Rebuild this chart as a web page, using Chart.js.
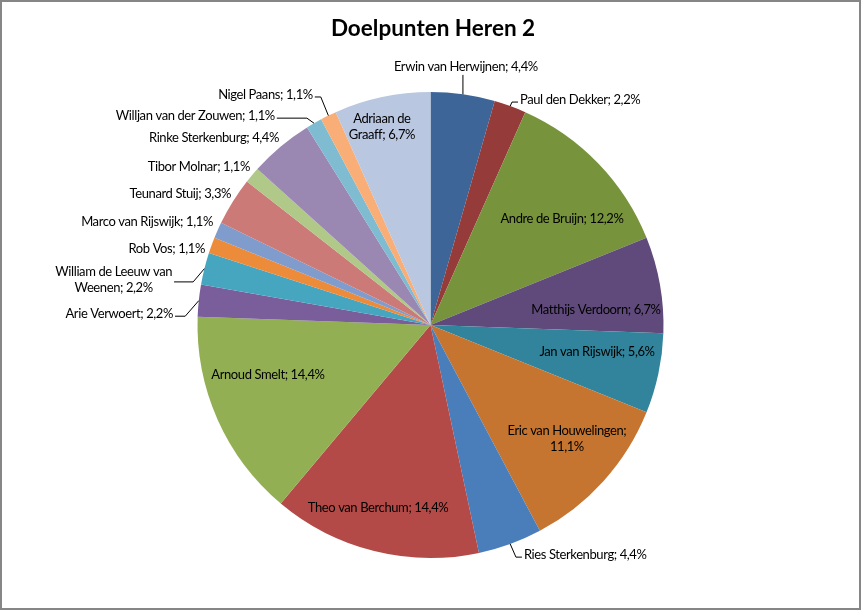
<!DOCTYPE html>
<html>
<head>
<meta charset="utf-8">
<title>Doelpunten Heren 2</title>
<script src="https://cdn.jsdelivr.net/npm/chart.js@4.4.1/dist/chart.umd.min.js"></script>
<style>
  html, body { margin: 0; padding: 0; background: #fff; }
  #wrap { width: 861px; height: 610px; }
</style>
</head>
<body>
<div id="wrap"><canvas id="chart" width="861" height="610"></canvas></div>
<script>
const chartTitle = "Doelpunten Heren 2";

const players = [
  "Erwin van Herwijnen", "Paul den Dekker", "Andre de Bruijn", "Matthijs Verdoorn",
  "Jan van Rijswijk", "Eric van Houwelingen", "Ries Sterkenburg", "Theo van Berchum",
  "Arnoud Smelt", "Arie Verwoert", "William de Leeuw van Weenen", "Rob Vos",
  "Marco van Rijswijk", "Teunard Stuij", "Tibor Molnar", "Rinke Sterkenburg",
  "Willjan van der Zouwen", "Nigel Paans", "Adriaan de Graaff",
];

// goals per player (90 in total)
const goals = [4, 2, 11, 6, 5, 10, 4, 13, 13, 2, 2, 1, 1, 3, 1, 4, 1, 1, 6];

const sliceColors = [
  "#3d6597", "#953b39", "#77933c", "#604a7b", "#31849b", "#c5752f",
  "#4a7ebb", "#b34a47", "#93af54", "#7a5e9b", "#46a5bf", "#ec8c3b",
  "#7f9ccd", "#cc7a78", "#b0c888", "#9a88b3", "#7fbcd1", "#f9ae78",
  "#b9c7e0",
];

// label layout per slice: radius factor, angle shift (deg) from slice middle,
// text alignment, leader line, words on first line (0 = single line)
const labelLayout = [
  { f: 1.118, da: -0.2, align: "center", leader: true, wrap: 0 },
  { f: 1.039, da: 1.7, align: "left", leader: true, wrap: 0 },
  { f: 0.725, da: 5.1, align: "center", leader: false, wrap: 0 },
  { f: 0.713, da: 4.8, align: "center", leader: false, wrap: 0 },
  { f: 0.724, da: -2.8, align: "center", leader: false, wrap: 0 },
  { f: 0.763, da: -2.1, align: "center", leader: false, wrap: 3 },
  { f: 1.066, da: -2.1, align: "left", leader: true, wrap: 0 },
  { f: 0.817, da: 2.0, align: "center", leader: false, wrap: 0 },
  { f: 0.730, da: 6.9, align: "center", leader: false, wrap: 0 },
  { f: 1.106, da: -3.6, align: "right", leader: true, wrap: 0 },
  { f: 1.126, da: -4.1, align: "right", leader: true, wrap: 4 },
  { f: 1.021, da: -1.4, align: "right", leader: false, wrap: 0 },
  { f: 1.033, da: 1.3, align: "right", leader: false, wrap: 0 },
  { f: 1.024, da: 1.3, align: "right", leader: false, wrap: 0 },
  { f: 1.030, da: 1.2, align: "right", leader: false, wrap: 0 },
  { f: 1.033, da: 1.0, align: "right", leader: false, wrap: 0 },
  { f: 1.118, da: -6.7, align: "right", leader: true, wrap: 0 },
  { f: 1.109, da: -1.1, align: "right", leader: true, wrap: 0 },
  { f: 0.875, da: -1.8, align: "center", leader: false, wrap: 2 },
];

const labelFont = "13px Lato, 'Open Sans', sans-serif";
const lineHeight = 16;

function pctText(v, total) {
  return (v / total * 100).toFixed(1).replace(".", ",") + "%";
}

function labelLines(i, total) {
  const text = `${players[i]}; ${pctText(goals[i], total)}`;
  const n = labelLayout[i].wrap;
  if (!n) return [text];
  const words = text.split(" ");
  return [words.slice(0, n).join(" "), words.slice(n).join(" ")];
}

const frame = {
  id: "frame",
  beforeDraw(chart) {
    const ctx = chart.ctx;
    ctx.save();
    ctx.fillStyle = "#ffffff";
    ctx.fillRect(0, 0, chart.width, chart.height);
    ctx.restore();
  },
  afterDraw(chart) {
    const ctx = chart.ctx;
    ctx.save();
    ctx.strokeStyle = "#868686";
    ctx.lineWidth = 2;
    ctx.strokeRect(1, 1, chart.width - 2, chart.height - 2);
    ctx.fillStyle = "#000";
    ctx.font = "bold 22.5px Lato, 'Open Sans', sans-serif";
    ctx.textAlign = "center";
    ctx.textBaseline = "middle";
    ctx.fillText(chartTitle, 433, 29);
    ctx.restore();
  },
};

const sliceLabels = {
  id: "sliceLabels",
  afterDatasetsDraw(chart) {
    const ctx = chart.ctx;
    const meta = chart.getDatasetMeta(0);
    const total = goals.reduce((a, b) => a + b, 0);
    ctx.save();
    ctx.font = labelFont;
    if ("letterSpacing" in ctx) ctx.letterSpacing = "-0.4px";
    ctx.fillStyle = "#000";
    ctx.strokeStyle = "#000";
    ctx.lineWidth = 1;
    ctx.textBaseline = "middle";
    meta.data.forEach((arc, i) => {
      const p = arc.getProps(["x", "y", "startAngle", "endAngle", "outerRadius"], true);
      const lay = labelLayout[i];
      const mid = (p.startAngle + p.endAngle) / 2;
      const a = mid + lay.da * Math.PI / 180;
      const ax = p.x + Math.cos(a) * p.outerRadius * lay.f;
      const ay = p.y + Math.sin(a) * p.outerRadius * lay.f;
      const lines = labelLines(i, total);
      const widths = lines.map((l) => ctx.measureText(l).width);
      const blockW = Math.max(...widths);
      let cx = ax;
      if (lay.align === "right") cx = ax - blockW / 2;
      if (lay.align === "left") cx = ax + blockW / 2;
      const top = ay - (lines.length - 1) * lineHeight / 2;
      ctx.textAlign = "center";
      lines.forEach((l, k) => ctx.fillText(l, cx, top + k * lineHeight));

      if (lay.leader) {
        const ex = p.x + Math.cos(mid) * p.outerRadius;
        const ey = p.y + Math.sin(mid) * p.outerRadius;
        ctx.beginPath();
        if (lay.align === "center") {
          ctx.moveTo(ex, ay + 8);
          ctx.lineTo(ex, ey);
        } else {
          const side = lay.align === "right" ? 1 : -1;
          const sx = ax + side * 2;
          const stub = Math.max(6, Math.abs(ex - sx) - Math.abs(ey - ay));
          ctx.moveTo(sx, ay + 2);
          ctx.lineTo(sx + side * stub, ay + 2);
          ctx.lineTo(ex, ey);
        }
        ctx.stroke();
      }
    });
    ctx.restore();
  },
};

new Chart(document.getElementById("chart"), {
  type: "pie",
  data: {
    labels: players,
    datasets: [
      {
        data: goals,
        backgroundColor: sliceColors,
        borderWidth: 0,
      },
    ],
  },
  options: {
    responsive: false,
    animation: false,
    layout: { padding: { top: 92, bottom: 52, left: 0, right: 0 } },
    plugins: {
      legend: { display: false },
      tooltip: { enabled: false },
      title: { display: false },
    },
  },
  plugins: [frame, sliceLabels],
});
</script>
</body>
</html>
